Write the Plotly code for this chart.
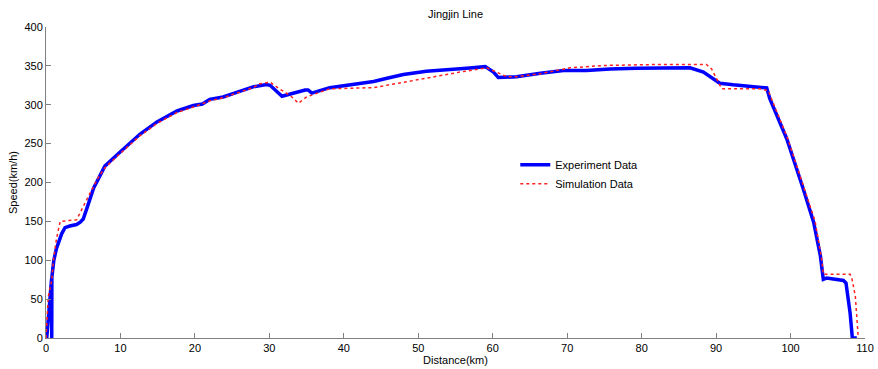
import plotly.graph_objects as go

# Experiment data (blue)
exp_km = [0.1, 0.45, 0.75, 0.77, 0.79, 1.05, 1.4, 2.1, 2.55, 3.2, 4.1, 4.6, 5.0, 5.5, 5.9, 6.4, 7.0,
          7.9, 9.7, 11.0, 12.6, 14.9, 17.6, 19.8, 21.0, 22.0, 23.8, 25.6, 27.8, 29.6, 30.1,
          31.7, 33.2, 34.8, 35.2, 35.7, 38.1, 39.7, 41.7, 44.0, 45.8, 48.0, 51.1, 53.8, 56.5,
          59.0, 60.1, 60.75, 61.9, 63.2, 66.4, 69.5, 72.6, 75.75, 79.3, 82.5, 86.5, 88.3, 89.6,
          90.5, 92.3, 94.1, 96.3, 96.8, 97.2, 99.5, 101.7, 103.1, 104.0, 104.4, 104.85, 107.1,
          107.45, 108.0, 108.3, 108.9]
exp_speed = [0, 50, 76, 0, 78, 100, 115, 134, 142, 144, 146, 149, 153, 167, 180, 193, 204,
             221, 237, 248, 262, 278, 292, 299, 301, 307, 310, 316, 323, 326, 325,
             311, 315, 319, 319, 315, 322, 324, 326, 330, 334, 339, 343, 345.5, 347,
             349, 342, 335, 335, 336, 340.5, 344, 344, 346, 347, 347.5, 347.5, 342, 333,
             327.7, 325.6, 324, 322.6, 321.7, 308, 256, 192, 149, 106, 75.5, 77, 74,
             70.6, 32, 0, 0]

# Simulation data (red dotted)
sim_km = [0, 0.1, 0.3, 0.77, 1.0, 1.4, 1.9, 4.1, 5.0, 5.9, 7.0, 7.9, 9.7, 12.6, 14.9, 17.6,
          19.8, 22.0, 23.8, 25.6, 27.8, 28.7, 30.1, 31.4, 32.8, 33.9, 35.0, 38.1, 43.96, 47.5,
          51.1, 55.6, 59.2, 61.0, 61.9, 63.2, 66.4, 70.4, 74.9, 81.6, 88.7, 89.4, 90.75, 95.9,
          97.0, 99.6, 101.8, 103.3, 104.2, 104.4, 108.0, 108.25, 108.7, 109.1]
sim_speed = [0, 23, 53, 74, 100, 127, 150, 152, 170, 186, 206, 219, 235, 260, 276, 290,
             297, 305, 309, 315, 322, 327, 329, 320, 312, 302, 310, 320.5, 322, 328,
             334.6, 342, 347.5, 340, 336, 336, 340, 347.5, 350.5, 351.7, 351.7, 346, 320.5, 320.5,
             318, 257, 195, 150, 100, 82, 82, 76, 54, 0]

x_ticks = list(range(0, 111, 10))
y_ticks = list(range(0, 401, 50))

FONT = "Arial, Liberation Sans, sans-serif"

fig = go.Figure()
fig.add_trace(go.Scatter(x=exp_km, y=exp_speed, mode="lines", name="Experiment Data",
                         line=dict(color="#0000FF", width=3.5)))
fig.add_trace(go.Scatter(x=sim_km, y=sim_speed, mode="lines", name="Simulation Data",
                         line=dict(color="#FF2020", width=1.5, dash="dot")))

axis_common = dict(showgrid=False, zeroline=False, showline=True, linecolor="#808080",
                   linewidth=1, ticks="inside", ticklen=5, tickcolor="#808080",
                   tickfont=dict(family=FONT, size=11, color="#000"), mirror=False,
                   automargin=False)

fig.update_layout(
    width=878, height=369,
    margin=dict(l=46, r=13, t=27, b=31),
    paper_bgcolor="white", plot_bgcolor="white",
    font=dict(family=FONT, size=11, color="#000"),
    title=dict(text="Jingjin Line", x=0.5, xanchor="center", xref="paper",
               y=1 - 14 / 369, yref="container", yanchor="middle",
               font=dict(family=FONT, size=11, color="#000")),
    xaxis=dict(range=[0, 110], tickvals=x_ticks,
               title=dict(text="Distance(km)", standoff=0, font=dict(family=FONT, size=11)),
               **axis_common),
    yaxis=dict(range=[0, 400], tickvals=y_ticks,
               title=dict(text="Speed(km/h)", standoff=4, font=dict(family=FONT, size=11)),
               **axis_common),
    legend=dict(x=0.573, y=0.604, xanchor="left", yanchor="top", bgcolor="rgba(0,0,0,0)",
                borderwidth=0, font=dict(family=FONT, size=11, color="#000"),
                itemwidth=30, tracegroupgap=0),
    showlegend=True,
)

fig.write_html("out.html", config={"displayModeBar": False},
               post_script="document.body.style.margin='0';document.body.style.overflow='hidden';")
